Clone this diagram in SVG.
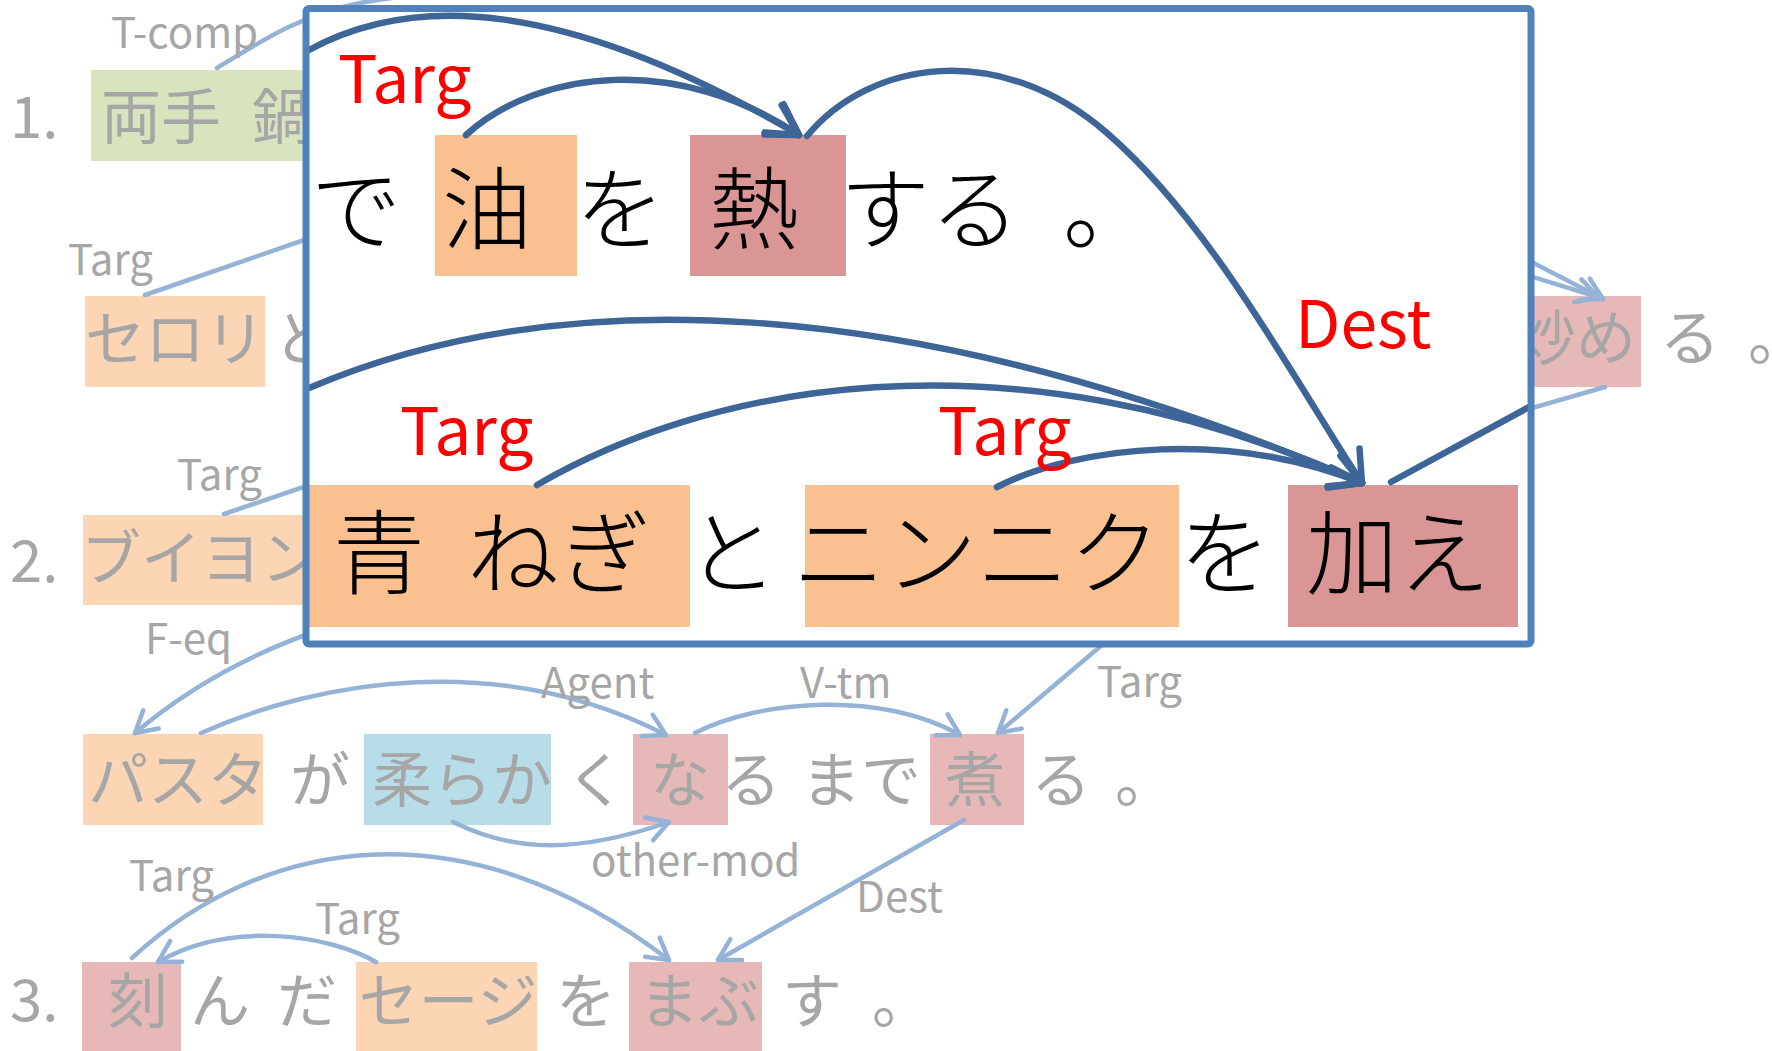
<svg xmlns="http://www.w3.org/2000/svg" width="1772" height="1051" viewBox="0 0 1772 1051">
<style>
.t{font-family:"Noto Sans CJK JP","Noto Sans",sans-serif}
.g{fill:#A6A6A6;font-size:60px;text-anchor:middle}
.lbl{fill:#A6A6A6;font-size:42px}
.num{fill:#A6A6A6;font-size:58px}
.k1{fill:#000;font-size:90px;text-anchor:middle;font-weight:300}
.k2{fill:#000;font-size:92px;text-anchor:middle;font-weight:300}
.red{fill:#FF0000;font-size:66px}
.lb{fill:none;stroke:#95B3D7;stroke-width:4.5;stroke-linecap:round}
.db{fill:none;stroke:#3D6597;stroke-width:6.5;stroke-linecap:round}
.la{marker-end:url(#al)}
.da{marker-end:url(#ad)}
.mkl{fill:none;stroke:#95B3D7;stroke-width:4.5;stroke-linecap:round;stroke-linejoin:round}
.mkd{fill:none;stroke:#3D6597;stroke-width:6.5;stroke-linecap:round;stroke-linejoin:round}
.bg{fill:#D7E4BD}.bo{fill:#FCD5B5}.bp{fill:#E6B9B8}.bb{fill:#B7DEE8}
.io{fill:#FAC090}.ir{fill:#D99694}
</style>
<defs>
<marker id="al" markerUnits="userSpaceOnUse" viewBox="-30 -20 36 40" markerWidth="36" markerHeight="40" refX="0" refY="0" orient="auto" overflow="visible">
<path class="mkl" d="M-21,-12 L0,0 L-21,12"/>
</marker>
<marker id="ad" markerUnits="userSpaceOnUse" viewBox="-40 -25 46 50" markerWidth="46" markerHeight="50" refX="0" refY="0" orient="auto" overflow="visible">
<path class="mkd" d="M-30,-17 L0,0 L-30,17"/>
</marker>
</defs>
<rect width="1772" height="1051" fill="#fff"/>

<!-- outer (faded) diagram -->
<g id="outer-nodes" class="t">
<text class="num" x="10" y="138">1.</text>
<text class="num" x="10" y="582">2.</text>
<text class="num" x="10" y="1021">3.</text>
<g id="o-ryoute"><rect class="bg" x="91" y="70" width="230" height="91"/><text class="g" x="161" y="139">両手</text><text class="g" x="282" y="139">鍋</text></g>
<g id="o-serori"><rect class="bo" x="85" y="296" width="180" height="91"/><text class="g" x="175" y="361">セロリ</text></g>
<text class="g" x="303" y="361">と</text>
<g id="o-itame"><rect class="bp" x="1515" y="296" width="126" height="91"/><text class="g" x="1576" y="360">炒め</text></g>
<text class="g" x="1690" y="360">る</text>
<text class="g" x="1778" y="360">。</text>
<g id="o-buiyon"><rect class="bo" x="83" y="515" width="240" height="90"/><text class="g" x="201" y="580">ブイヨン</text></g>
<g id="o-pasta"><rect class="bo" x="83" y="734" width="180" height="91"/><text class="g" x="178" y="802">パスタ</text></g>
<text class="g" x="320" y="802">が</text>
<g id="o-yawaraka"><rect class="bb" x="364" y="734" width="187" height="91"/><text class="g" x="462" y="802">柔らか</text></g>
<text class="g" x="596" y="802">く</text>
<g id="o-na"><rect class="bp" x="633" y="734" width="95" height="91"/><text class="g" x="680" y="802">な</text></g>
<text class="g" x="751" y="802">る</text>
<text class="g" x="861" y="802">まで</text>
<g id="o-ni"><rect class="bp" x="930" y="734" width="94" height="91"/><text class="g" x="975" y="802">煮</text></g>
<text class="g" x="1061" y="802">る</text>
<text class="g" x="1145" y="802">。</text>
<g id="o-kizami"><rect class="bp" x="82" y="962" width="99" height="89"/><text class="g" x="138" y="1023">刻</text></g>
<text class="g" x="220" y="1023">ん</text>
<text class="g" x="307" y="1023">だ</text>
<g id="o-seji"><rect class="bo" x="356" y="962" width="181" height="89"/><text class="g" x="448" y="1023">セージ</text></g>
<text class="g" x="586" y="1023">を</text>
<g id="o-mabu"><rect class="bp" x="629" y="962" width="133" height="89"/><text class="g" x="699" y="1023">まぶ</text></g>
<text class="g" x="812" y="1023">す</text>
<text class="g" x="902" y="1023">。</text>
</g>

<g id="outer-connectors">
<path class="lb" d="M217,68 C260,42 300,15 360,3 S460,-3 540,-6"/>
<path class="lb" d="M145,295 L330,231"/>
<path class="lb" d="M224,514 L330,478"/>
<path class="lb la" d="M325,628 Q215,665 135,733"/>
<path class="lb la" d="M201,733 C320,680 500,650 666,735"/>
<path class="lb la" d="M695,733 C760,700 880,690 960,735"/>
<path class="lb la" d="M1115,634 L998,733"/>
<path class="lb la" d="M453,822 C500,845 560,860 669,822"/>
<path class="lb la" d="M132,958 C260,840 460,800 669,960"/>
<path class="lb la" d="M376,962 C330,935 230,920 158,962"/>
<path class="lb la" d="M964,820 L718,960"/>
<path class="lb la" d="M1520,256 L1603,299"/>
<path class="lb la" d="M1520,273 L1598,297"/>
<path class="lb" d="M1605,387 L1515,413"/>
</g>
<g id="outer-labels" class="t">
<text class="lbl" x="111" y="48">T-comp</text>
<text class="lbl" x="68" y="275">Targ</text>
<text class="lbl" x="177" y="490">Targ</text>
<text class="lbl" x="145" y="654">F-eq</text>
<text class="lbl" x="541" y="698">Agent</text>
<text class="lbl" x="800" y="698">V-tm</text>
<text class="lbl" x="1097" y="697">Targ</text>
<text class="lbl" x="591" y="876">other-mod</text>
<text class="lbl" x="129" y="891">Targ</text>
<text class="lbl" x="315" y="934">Targ</text>
<text class="lbl" x="856" y="912">Dest</text>
</g>

<!-- magnified inset -->
<rect id="inset-bg" x="306" y="8.5" width="1225" height="635.5" fill="#fff"/>
<g id="inset-nodes" class="t">
<text class="k1" x="356" y="242">で</text>
<g id="i-abura"><rect class="io" x="435" y="135" width="142" height="141"/><text class="k1" x="487" y="242">油</text></g>
<text class="k1" x="620" y="242">を</text>
<g id="i-netsu"><rect class="ir" x="690" y="135" width="156" height="141"/><text class="k1" x="754" y="242">熱</text></g>
<text class="k1" x="930" y="242">する</text>
<text class="k1" x="1108" y="242">。</text>
<g id="i-aonegi"><rect class="io" x="309" y="485" width="381" height="142"/><text class="k2" x="379" y="587">青</text><text class="k2" x="559" y="587">ねぎ</text></g>
<text class="k2" x="732" y="587">と</text>
<g id="i-ninniku"><rect class="io" x="805" y="485" width="374" height="142"/><text class="k2" x="977" y="587">ニンニク</text></g>
<text class="k2" x="1225" y="587">を</text>
<g id="i-kuwae"><rect class="ir" x="1288" y="485" width="230" height="142"/><text class="k2" x="1398" y="587">加え</text></g>
</g>
<g id="inset-connectors">
<path class="db da" d="M309,50 C410,-5 560,-5 799,135"/>
<path class="db da" d="M466,135 C540,68 680,55 799,135"/>
<path class="db da" d="M807,136 C870,60 1000,40 1107,133 S1300,390 1362,483"/>
<path class="db da" d="M309,388 C550,285 900,285 1362,483"/>
<path class="db da" d="M537,485 C700,390 1000,320 1362,483"/>
<path class="db da" d="M997,487 C1080,445 1230,430 1362,483"/>
<path class="db" d="M1391,482 L1531,406"/>
</g>
<g id="inset-labels" class="t">
<text class="red" x="338" y="103">Targ</text>
<text class="red" x="400" y="455">Targ</text>
<text class="red" x="938" y="455">Targ</text>
<text class="red" x="1295" y="348">Dest</text>
</g>
<rect id="inset-frame" x="306" y="8.5" width="1225" height="635.5" rx="3" fill="none" stroke="#4F81BD" stroke-width="7"/>
</svg>
